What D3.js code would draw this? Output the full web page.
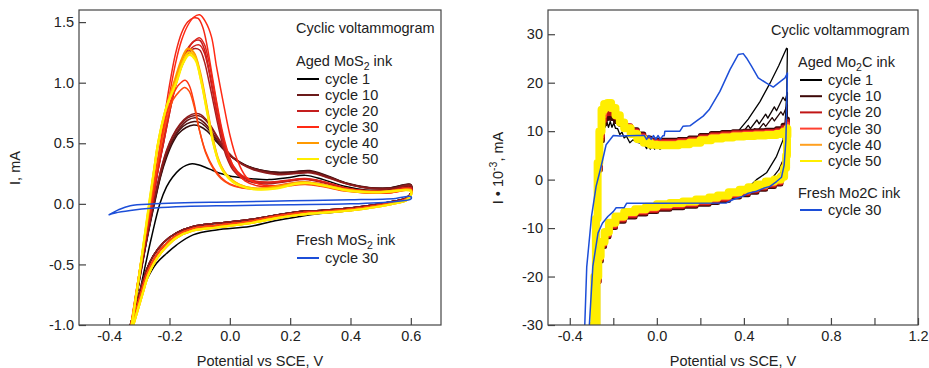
<!DOCTYPE html>
<meta charset="utf-8">
<style>

body { margin: 0; background: #fff; }
svg { font-family: "Liberation Sans", Arial, sans-serif; }
.frame { fill: none; stroke: #444; stroke-width: 1.2px; }
.axis .domain { display: none; }
.axis line { stroke: #444; stroke-width: 1.2px; }
.axis text { font-size: 14.5px; fill: #222; font-family: "Liberation Sans", Arial, sans-serif; }
.trace { fill: none; stroke-linejoin: round; stroke-linecap: round; }
.label { font-size: 14.5px; fill: #222; }

</style>
<svg width="929" height="368">
  <rect fill="#fff" width="100%" height="100%"></rect>
</svg>
<script src="https://d3js.org/d3.v7.min.js"></script>
<script>

// ---- shared legend ----
var legendCycles = [1, 10, 20, 30, 40, 50];

// ---- left panel: MoS2 ink, potential (V) vs current (mA) ----
var mosXTicks = [-0.4, -0.2, 0, 0.2, 0.4, 0.6];
var mosYTicks = [-1.0, -0.5, 0, 0.5, 1.0, 1.5];
var mosColors = ["#000000", "#6b1a1a", "#c41e1e", "#ff2a14", "#ff9900", "#ffee00"];

// forward (anodic) sweeps
var mos1 = [[-0.322,-1.0],[-0.305,-0.8],[-0.288,-0.6],[-0.26,-0.28],[-0.232,0.0],[-0.21,0.14],[-0.19,0.22],[-0.166,0.285],[-0.145,0.318],[-0.125,0.33],[-0.105,0.322],[-0.08,0.3],[-0.056,0.275],[-0.03,0.25],[0.0,0.23],[0.04,0.215],[0.08,0.205],[0.13,0.2],[0.19,0.215],[0.25,0.235],[0.31,0.2],[0.38,0.145],[0.45,0.115],[0.52,0.115],[0.6,0.14]];
var mos5 = [[-0.325,-1.0],[-0.30,-0.64],[-0.275,-0.3],[-0.25,0.0],[-0.23,0.22],[-0.21,0.38],[-0.19,0.5],[-0.17,0.58],[-0.145,0.63],[-0.12,0.65],[-0.10,0.64],[-0.075,0.6],[-0.05,0.53],[-0.025,0.46],[0.0,0.4],[0.03,0.35],[0.06,0.31],[0.1,0.28],[0.15,0.26],[0.2,0.26],[0.26,0.27],[0.32,0.23],[0.38,0.175],[0.45,0.135],[0.52,0.13],[0.6,0.155]];
var mos7 = [[-0.325,-1.0],[-0.30,-0.63],[-0.275,-0.29],[-0.251,0.0],[-0.23,0.23],[-0.21,0.4],[-0.19,0.52],[-0.167,0.61],[-0.143,0.66],[-0.118,0.68],[-0.098,0.67],[-0.073,0.62],[-0.048,0.54],[-0.023,0.46],[0.005,0.39],[0.035,0.34],[0.07,0.3],[0.11,0.275],[0.16,0.26],[0.21,0.265],[0.265,0.275],[0.325,0.23],[0.39,0.17],[0.46,0.135],[0.53,0.13],[0.6,0.16]];
var mos10 = [[-0.325,-1.0],[-0.30,-0.63],[-0.275,-0.29],[-0.252,0.0],[-0.23,0.24],[-0.21,0.41],[-0.19,0.53],[-0.165,0.63],[-0.14,0.69],[-0.115,0.71],[-0.095,0.69],[-0.07,0.63],[-0.045,0.54],[-0.02,0.45],[0.01,0.38],[0.04,0.33],[0.08,0.29],[0.12,0.265],[0.17,0.25],[0.22,0.26],[0.27,0.265],[0.33,0.22],[0.4,0.16],[0.47,0.13],[0.54,0.13],[0.6,0.16]];
var mos12 = [[-0.325,-1.0],[-0.30,-0.62],[-0.275,-0.28],[-0.253,0.0],[-0.23,0.26],[-0.21,0.43],[-0.19,0.55],[-0.165,0.65],[-0.14,0.71],[-0.115,0.73],[-0.095,0.72],[-0.07,0.66],[-0.045,0.56],[-0.02,0.465],[0.01,0.385],[0.04,0.33],[0.08,0.285],[0.12,0.26],[0.17,0.245],[0.22,0.255],[0.27,0.26],[0.33,0.215],[0.4,0.158],[0.47,0.128],[0.54,0.128],[0.6,0.155]];
var mos14 = [[-0.325,-1.0],[-0.30,-0.62],[-0.275,-0.28],[-0.254,0.0],[-0.23,0.27],[-0.21,0.44],[-0.19,0.56],[-0.165,0.66],[-0.14,0.72],[-0.115,0.745],[-0.095,0.735],[-0.07,0.67],[-0.045,0.57],[-0.02,0.47],[0.01,0.385],[0.04,0.325],[0.08,0.28],[0.12,0.255],[0.17,0.24],[0.22,0.25],[0.27,0.255],[0.33,0.21],[0.4,0.155],[0.47,0.125],[0.54,0.125],[0.6,0.15]];
var mos17 = [[-0.326,-1.0],[-0.30,-0.6],[-0.28,-0.3],[-0.257,0.0],[-0.24,0.25],[-0.22,0.5],[-0.20,0.75],[-0.18,0.97],[-0.16,1.13],[-0.14,1.23],[-0.12,1.28],[-0.10,1.27],[-0.085,1.18],[-0.07,1.02],[-0.055,0.84],[-0.04,0.66],[-0.025,0.5],[-0.01,0.38],[0.01,0.28],[0.04,0.21],[0.08,0.175],[0.13,0.165],[0.19,0.185],[0.25,0.2],[0.31,0.175],[0.38,0.13],[0.45,0.105],[0.53,0.105],[0.6,0.13]];
var mos20 = [[-0.326,-1.0],[-0.30,-0.6],[-0.28,-0.3],[-0.258,0.0],[-0.24,0.26],[-0.22,0.52],[-0.20,0.78],[-0.18,1.0],[-0.16,1.17],[-0.14,1.28],[-0.12,1.34],[-0.10,1.35],[-0.085,1.28],[-0.07,1.12],[-0.055,0.92],[-0.04,0.72],[-0.025,0.55],[-0.01,0.41],[0.01,0.3],[0.04,0.225],[0.08,0.185],[0.13,0.175],[0.19,0.19],[0.25,0.205],[0.31,0.18],[0.38,0.13],[0.45,0.105],[0.53,0.105],[0.6,0.13]];
var mos22 = [[-0.326,-1.0],[-0.30,-0.6],[-0.28,-0.3],[-0.258,0.0],[-0.24,0.26],[-0.22,0.51],[-0.20,0.77],[-0.18,0.99],[-0.16,1.15],[-0.14,1.25],[-0.12,1.3],[-0.10,1.31],[-0.085,1.25],[-0.07,1.1],[-0.055,0.9],[-0.04,0.7],[-0.025,0.54],[-0.01,0.41],[0.01,0.3],[0.04,0.225],[0.08,0.185],[0.13,0.175],[0.19,0.19],[0.25,0.205],[0.31,0.18],[0.38,0.13],[0.45,0.105],[0.53,0.105],[0.6,0.13]];
var mos24 = [[-0.326,-1.0],[-0.30,-0.6],[-0.28,-0.3],[-0.257,0.0],[-0.24,0.25],[-0.22,0.5],[-0.20,0.75],[-0.18,0.98],[-0.16,1.15],[-0.14,1.27],[-0.12,1.34],[-0.10,1.37],[-0.085,1.32],[-0.07,1.18],[-0.055,0.98],[-0.04,0.77],[-0.025,0.58],[-0.01,0.44],[0.01,0.32],[0.04,0.235],[0.08,0.19],[0.13,0.18],[0.19,0.195],[0.25,0.21],[0.31,0.185],[0.38,0.135],[0.45,0.11],[0.53,0.11],[0.6,0.135]];
var mos28 = [[-0.327,-1.0],[-0.30,-0.57],[-0.28,-0.26],[-0.262,0.0],[-0.24,0.33],[-0.22,0.66],[-0.20,0.98],[-0.18,1.24],[-0.16,1.41],[-0.14,1.5],[-0.12,1.535],[-0.105,1.53],[-0.09,1.46],[-0.075,1.3],[-0.06,1.08],[-0.045,0.86],[-0.03,0.66],[-0.015,0.5],[0.0,0.38],[0.02,0.27],[0.05,0.19],[0.09,0.15],[0.15,0.145],[0.2,0.165],[0.25,0.175],[0.31,0.155],[0.38,0.115],[0.45,0.095],[0.53,0.095],[0.6,0.12]];
var mos30 = [[-0.327,-1.0],[-0.30,-0.58],[-0.28,-0.27],[-0.26,0.0],[-0.24,0.3],[-0.22,0.6],[-0.20,0.9],[-0.18,1.16],[-0.16,1.35],[-0.14,1.47],[-0.12,1.54],[-0.10,1.56],[-0.08,1.5],[-0.061,1.38],[-0.044,1.13],[-0.022,0.84],[0.0,0.57],[0.022,0.38],[0.055,0.22],[0.1,0.16],[0.15,0.15],[0.2,0.17],[0.25,0.18],[0.31,0.16],[0.38,0.12],[0.45,0.1],[0.53,0.1],[0.6,0.125]];
var mos31 = [[-0.328,-1.0],[-0.30,-0.56],[-0.28,-0.25],[-0.263,0.0],[-0.24,0.35],[-0.22,0.62],[-0.20,0.82],[-0.188,0.9],[-0.17,0.98],[-0.148,1.02],[-0.135,0.98],[-0.12,0.85],[-0.10,0.6],[-0.08,0.43],[-0.055,0.3],[-0.03,0.22],[0.0,0.165],[0.04,0.135],[0.09,0.125],[0.15,0.135],[0.2,0.155],[0.25,0.165],[0.31,0.145],[0.38,0.11],[0.45,0.09],[0.53,0.09],[0.6,0.115]];
var mos33 = [[-0.328,-1.0],[-0.30,-0.56],[-0.28,-0.25],[-0.263,0.0],[-0.24,0.33],[-0.22,0.58],[-0.20,0.78],[-0.188,0.86],[-0.17,0.92],[-0.15,0.96],[-0.135,0.93],[-0.12,0.82],[-0.10,0.6],[-0.08,0.42],[-0.055,0.29],[-0.03,0.21],[0.0,0.16],[0.04,0.13],[0.09,0.12],[0.15,0.13],[0.2,0.15],[0.25,0.16],[0.31,0.14],[0.38,0.105],[0.45,0.09],[0.53,0.09],[0.6,0.11]];
var mos40 = [[-0.326,-1.0],[-0.30,-0.58],[-0.28,-0.24],[-0.266,0.0],[-0.25,0.29],[-0.237,0.5],[-0.21,0.8],[-0.18,1.04],[-0.16,1.19],[-0.14,1.28],[-0.12,1.25],[-0.10,1.1],[-0.08,0.85],[-0.06,0.58],[-0.04,0.38],[-0.02,0.27],[0.0,0.21],[0.03,0.16],[0.07,0.13],[0.12,0.13],[0.18,0.155],[0.24,0.18],[0.3,0.16],[0.38,0.12],[0.45,0.1],[0.53,0.1],[0.6,0.115]];
var mos45 = [[-0.325,-1.0],[-0.30,-0.58],[-0.28,-0.23],[-0.267,0.0],[-0.25,0.3],[-0.238,0.5],[-0.21,0.8],[-0.178,1.01],[-0.155,1.18],[-0.137,1.25],[-0.117,1.22],[-0.097,1.04],[-0.077,0.79],[-0.057,0.53],[-0.037,0.35],[-0.018,0.26],[0.01,0.19],[0.033,0.155],[0.08,0.125],[0.15,0.13],[0.22,0.17],[0.26,0.175],[0.32,0.15],[0.4,0.11],[0.5,0.1],[0.6,0.11]];
var mos50 = [[-0.325,-1.0],[-0.30,-0.58],[-0.28,-0.22],[-0.268,0.0],[-0.25,0.3],[-0.238,0.5],[-0.21,0.8],[-0.177,1.0],[-0.155,1.16],[-0.135,1.23],[-0.115,1.19],[-0.094,1.0],[-0.075,0.75],[-0.055,0.5],[-0.035,0.33],[-0.017,0.25],[0.01,0.18],[0.033,0.15],[0.08,0.12],[0.15,0.125],[0.22,0.165],[0.26,0.17],[0.32,0.145],[0.4,0.105],[0.5,0.095],[0.6,0.105]];

// reverse (cathodic) sweeps
var mosBackBlack = [[0.6,0.08],[0.585,0.04],[0.55,0.01],[0.5,-0.015],[0.4,-0.055],[0.3,-0.08],[0.232,-0.105],[0.15,-0.14],[0.066,-0.187],[-0.044,-0.215],[-0.122,-0.256],[-0.177,-0.34],[-0.21,-0.41],[-0.243,-0.49],[-0.276,-0.63],[-0.305,-0.82],[-0.325,-1.0]];
var mosBackDark = [[0.6,0.09],[0.585,0.05],[0.55,0.025],[0.5,0.0],[0.4,-0.035],[0.3,-0.055],[0.232,-0.063],[0.15,-0.095],[0.066,-0.13],[-0.044,-0.16],[-0.122,-0.187],[-0.177,-0.24],[-0.22,-0.32],[-0.254,-0.43],[-0.276,-0.545],[-0.30,-0.74],[-0.33,-1.0]];
var mosBackRed = [[0.6,0.08],[0.585,0.04],[0.55,0.015],[0.5,-0.01],[0.4,-0.045],[0.3,-0.065],[0.232,-0.075],[0.15,-0.105],[0.066,-0.145],[-0.044,-0.178],[-0.122,-0.203],[-0.177,-0.26],[-0.22,-0.35],[-0.25,-0.45],[-0.273,-0.565],[-0.296,-0.75],[-0.325,-1.0]];
var mosBackYellow = [[0.6,0.07],[0.585,0.03],[0.55,0.005],[0.5,-0.02],[0.4,-0.055],[0.3,-0.075],[0.232,-0.09],[0.15,-0.12],[0.066,-0.16],[-0.044,-0.195],[-0.122,-0.22],[-0.177,-0.28],[-0.22,-0.38],[-0.248,-0.476],[-0.27,-0.586],[-0.292,-0.765],[-0.32,-1.0]];

// fresh MoS2 ink, cycle 30
var mosFresh = [[-0.40,-0.09],[-0.37,-0.05],[-0.33,-0.015],[-0.25,0.0],[-0.15,0.01],[0.0,0.015],[0.2,0.025],[0.4,0.033],[0.55,0.045],[0.6,0.06],[0.6,0.04],[0.55,0.02],[0.4,0.0],[0.2,-0.008],[0.0,-0.015],[-0.15,-0.022],[-0.25,-0.035],[-0.33,-0.055],[-0.38,-0.075],[-0.40,-0.09]];

// ---- right panel: Mo2C ink, potential (V) vs current (10^-3 mA) ----
var mo2cXTicks = [-0.4, -0.2, 0, 0.2, 0.4, 0.6, 0.8, 1.0, 1.2];
var mo2cXLabels = [-0.4, 0, 0.4, 0.8, 1.2];
var mo2cYTicks = [-30, -20, -10, 0, 10, 20, 30];
var mo2cColors = ["#000000", "#3d0808", "#c01515", "#ff4030", "#ffa020", "#ffee00"];

var mo2c1 = [[-0.294,-30],[-0.28,-12],[-0.265,5],[-0.255,10.5],[-0.245,12],[-0.238,10.8],[-0.23,12],[-0.222,10.8],[-0.214,12],[-0.206,10.8],[-0.198,11.7],[-0.19,10.6],[-0.18,10.5],[-0.17,9.3],[-0.16,9.8],[-0.15,8.6],[-0.14,9.0],[-0.124,7.6],[-0.11,8.2],[-0.09,7.7],[-0.06,7.4],[-0.047,6.4],[-0.04,7.0],[-0.03,6.3],[-0.02,7.0],[-0.01,6.3],[0.0,7.0],[0.014,6.3],[0.05,7.2],[0.2,7.8],[0.33,8.6],[0.37,9.6],[0.38,10.3],[0.42,12.5],[0.474,16.1],[0.52,19.9],[0.56,23.5],[0.596,27.1],
  [0.6,27],[0.597,18],[0.59,12],[0.58,8.2],[0.55,4.8],[0.504,1.4],[0.458,0],[0.4,-2.5],[0.3,-3.9],[0.2,-4.5],[0.0,-5.6],[-0.12,-7.2],[-0.2,-9.5],[-0.24,-13],[-0.26,-18],[-0.275,-30]];
var mo2c3 = [[0.3,8.5],[0.36,9.2],[0.4,10],[0.42,11.2],[0.43,10.5],[0.46,12.3],[0.47,11.5],[0.5,13.5],[0.51,12.7],[0.54,15],[0.55,14.2],[0.58,17],[0.59,16.3],[0.6,18],[0.598,12],[0.592,7],[0.58,4],[0.56,2],[0.53,0.3],[0.5,-0.8]];
var mo2c6 = [[0.35,9],[0.42,9.6],[0.45,10.5],[0.46,9.9],[0.49,11.6],[0.5,11],[0.53,12.8],[0.54,12.1],[0.57,14],[0.58,13.3],[0.6,15.5],[0.598,10],[0.593,6],[0.585,3.5],[0.57,1.5],[0.54,0],[0.5,-1]];

var mo2c10 = [[-0.288,-30],[-0.283,-20],[-0.276,-8],[-0.268,2],[-0.26,8],[-0.25,11.5],[-0.238,12.6],[-0.225,12.9],[-0.21,12.6],[-0.19,12],[-0.17,11.4],[-0.15,10.9],[-0.12,10.3],[-0.09,9.4],[-0.06,8.6],[-0.03,8.2],[0.0,8.1],[0.05,8.1],[0.1,8.3],[0.15,8.6],[0.2,9.1],[0.25,9.5],[0.3,9.7],[0.35,9.9],[0.4,10],[0.45,10.1],[0.5,10.2],[0.55,10.5],[0.58,11.2],[0.6,12.5],
  [0.6,11],[0.598,7],[0.594,3.5],[0.585,0.6],[0.57,-0.9],[0.54,-1.4],[0.5,-2],[0.46,-2.6],[0.42,-3.1],[0.38,-3.6],[0.33,-4.3],[0.28,-4.7],[0.24,-5.1],[0.18,-5.5],[0.12,-5.8],[0.06,-6.1],[0.0,-6.6],[-0.05,-7.1],[-0.1,-7.7],[-0.15,-8.6],[-0.19,-9.9],[-0.22,-11.8],[-0.24,-13.8],[-0.255,-16.8],[-0.265,-21],[-0.272,-30]];
var mo2c20 = [[-0.289,-30],[-0.284,-20],[-0.277,-8],[-0.269,2],[-0.261,8.5],[-0.251,12.2],[-0.24,13.6],[-0.225,14],[-0.21,13.6],[-0.19,12.8],[-0.17,11.9],[-0.15,11.1],[-0.12,10.1],[-0.09,9.15],[-0.06,8.35],[-0.03,7.95],[0.0,7.85],[0.05,7.85],[0.1,8.05],[0.15,8.35],[0.2,8.85],[0.25,9.25],[0.3,9.45],[0.35,9.65],[0.4,9.75],[0.45,9.85],[0.5,9.95],[0.55,10.2],[0.58,10.8],[0.6,12],
  [0.6,10.5],[0.598,6.5],[0.594,3.2],[0.585,0.6],[0.57,-0.7],[0.54,-1.15],[0.5,-1.75],[0.46,-2.35],[0.42,-2.85],[0.38,-3.35],[0.33,-4.05],[0.28,-4.45],[0.24,-4.85],[0.18,-5.25],[0.12,-5.55],[0.06,-5.85],[0.0,-6.35],[-0.05,-6.85],[-0.1,-7.45],[-0.15,-8.35],[-0.19,-9.65],[-0.22,-11.55],[-0.24,-13.55],[-0.256,-16.5],[-0.266,-21],[-0.274,-30]];
var mo2c30 = [[-0.29,-30],[-0.285,-20],[-0.278,-8],[-0.27,2.5],[-0.262,9],[-0.252,13.2],[-0.24,14.7],[-0.225,15.1],[-0.21,14.4],[-0.19,13.2],[-0.17,12],[-0.15,11],[-0.12,9.9],[-0.09,8.9],[-0.06,8.1],[-0.03,7.7],[0.0,7.6],[0.05,7.6],[0.1,7.8],[0.15,8.1],[0.2,8.6],[0.25,9.0],[0.3,9.2],[0.35,9.4],[0.4,9.5],[0.45,9.6],[0.5,9.7],[0.55,9.9],[0.58,10.4],[0.6,11.5],
  [0.6,10],[0.598,6],[0.594,3],[0.585,0.6],[0.57,-0.5],[0.54,-0.9],[0.5,-1.5],[0.46,-2.1],[0.42,-2.6],[0.38,-3.1],[0.33,-3.8],[0.28,-4.2],[0.24,-4.6],[0.18,-5],[0.12,-5.3],[0.06,-5.6],[0.0,-6.1],[-0.05,-6.6],[-0.1,-7.2],[-0.15,-8.1],[-0.19,-9.4],[-0.22,-11.3],[-0.24,-13.3],[-0.256,-16.3],[-0.267,-21],[-0.275,-30]];
var mo2c40 = [[-0.291,-30],[-0.286,-20],[-0.279,-8],[-0.271,3],[-0.263,9.5],[-0.253,13.8],[-0.241,15.2],[-0.226,15.5],[-0.21,14.6],[-0.19,13.3],[-0.17,11.9],[-0.15,10.8],[-0.12,9.6],[-0.09,8.6],[-0.06,7.85],[-0.03,7.45],[0.0,7.35],[0.05,7.35],[0.1,7.55],[0.15,7.85],[0.2,8.35],[0.25,8.75],[0.3,8.95],[0.35,9.15],[0.4,9.25],[0.45,9.35],[0.5,9.45],[0.55,9.65],[0.58,10.1],[0.6,11],
  [0.6,9.5],[0.598,5.5],[0.594,2.7],[0.585,0.6],[0.57,-0.25],[0.54,-0.65],[0.5,-1.25],[0.46,-1.85],[0.42,-2.35],[0.38,-2.85],[0.33,-3.55],[0.28,-3.95],[0.24,-4.35],[0.18,-4.75],[0.12,-5.05],[0.06,-5.35],[0.0,-5.85],[-0.05,-6.35],[-0.1,-6.95],[-0.15,-7.85],[-0.19,-9.15],[-0.22,-11.05],[-0.24,-13.05],[-0.257,-16],[-0.268,-20.5],[-0.276,-30]];
var mo2c50 = [[-0.292,-30],[-0.287,-20],[-0.28,-8],[-0.272,3.5],[-0.264,10],[-0.254,14.4],[-0.242,15.6],[-0.227,15.8],[-0.21,14.8],[-0.19,13.3],[-0.17,11.8],[-0.15,10.6],[-0.12,9.4],[-0.09,8.4],[-0.06,7.6],[-0.03,7.2],[0.0,7.1],[0.05,7.1],[0.1,7.3],[0.15,7.6],[0.2,8.1],[0.25,8.5],[0.3,8.7],[0.35,8.9],[0.4,9.0],[0.45,9.1],[0.5,9.2],[0.55,9.4],[0.58,9.8],[0.6,10.5],
  [0.6,9],[0.598,5],[0.594,2.4],[0.585,0.6],[0.57,0],[0.54,-0.4],[0.5,-1],[0.46,-1.6],[0.42,-2.1],[0.38,-2.6],[0.33,-3.3],[0.28,-3.7],[0.24,-4.1],[0.18,-4.5],[0.12,-4.8],[0.06,-5.1],[0.0,-5.6],[-0.05,-6.1],[-0.1,-6.7],[-0.15,-7.6],[-0.19,-8.9],[-0.22,-10.8],[-0.24,-12.8],[-0.258,-15.8],[-0.269,-20],[-0.277,-30]];

// fresh Mo2C ink, cycle 30
var mo2cFresh = [[-0.331,-30],[-0.322,-18],[-0.30,-7.6],[-0.279,-1.4],[-0.256,2.7],[-0.233,7.2],[-0.20,9.1],[-0.17,9.0],[-0.09,9.1],[-0.057,9.1],[-0.047,8.3],[-0.036,9.1],[-0.026,8.3],[-0.015,9.1],[-0.005,8.3],[0.006,9.1],[0.016,8.3],[0.028,9.07],[0.034,9.07],[0.037,10.0],[0.106,10.0],[0.12,11],[0.152,11.1],[0.18,12],[0.213,13.1],[0.24,14.4],[0.29,18.2],[0.336,22.7],[0.374,25.8],[0.397,26],[0.412,25.1],[0.435,23.4],[0.466,21],[0.504,19.9],[0.535,19.1],[0.558,19.9],[0.589,21],[0.6,22],
  [0.597,16],[0.593,8.2],[0.585,3],[0.573,0.5],[0.55,-0.4],[0.52,-1.4],[0.49,-1.8],[0.458,-2.4],[0.42,-2.8],[0.397,-3.4],[0.351,-4.1],[0.32,-4.8],[0.0,-4.9],[-0.139,-4.9],[-0.15,-5.8],[-0.187,-5.8],[-0.2,-6.6],[-0.225,-7.6],[-0.25,-9],[-0.27,-11],[-0.294,-17.9],[-0.31,-30]];

var svg = d3.select("svg");

function panel(cfg) {
  var x = d3.scaleLinear().domain(cfg.xDomain).range([cfg.left, cfg.right]),
      y = d3.scaleLinear().domain(cfg.yDomain).range([cfg.bottom, cfg.top]);

  svg.append("clipPath").attr("id", cfg.id)
    .append("rect")
      .attr("x", cfg.left).attr("y", cfg.top)
      .attr("width", cfg.right - cfg.left).attr("height", cfg.bottom - cfg.top);

  svg.append("g").attr("class", "axis")
      .attr("transform", "translate(0," + cfg.bottom + ")")
      .call(d3.axisBottom(x).tickValues(cfg.xTicks).tickSize(-7).tickPadding(6)
        .tickFormat(cfg.xFormat));

  svg.append("g").attr("class", "axis")
      .attr("transform", "translate(" + cfg.left + ",0)")
      .call(d3.axisLeft(y).tickValues(cfg.yTicks).tickSize(-7).tickPadding(5)
        .tickFormat(cfg.yFormat));

  var plot = svg.append("g").attr("clip-path", "url(#" + cfg.id + ")");

  svg.append("rect").attr("class", "frame")
      .attr("x", cfg.left).attr("y", cfg.top)
      .attr("width", cfg.right - cfg.left).attr("height", cfg.bottom - cfg.top);

  return {x: x, y: y, plot: plot};
}

function drawTrace(p, pts, color, width, curve) {
  var line = d3.line()
      .x(function(d) { return p.x(d[0]); })
      .y(function(d) { return p.y(d[1]); })
      .curve(curve);
  p.plot.append("path").datum(pts)
      .attr("class", "trace")
      .attr("stroke", color)
      .attr("stroke-width", width)
      .attr("d", line);
}

function heading(tx, ty, parts) {
  var t = svg.append("text").attr("class", "label").attr("x", tx).attr("y", ty);
  parts.forEach(function(s) {
    if (s.sub) t.append("tspan").attr("font-size", "10.5px").attr("dy", 4).text(s.sub);
    else t.append("tspan").attr("dy", s.after ? -4 : 0).text(s.text);
  });
}

function legend(x0, rows, colorOf) {
  rows.forEach(function(r) {
    svg.append("line")
        .attr("x1", x0).attr("x2", x0 + 22)
        .attr("y1", r.y - 5).attr("y2", r.y - 5)
        .attr("stroke", colorOf(r.cycle)).attr("stroke-width", 2);
    svg.append("text").attr("class", "label")
        .attr("x", x0 + 28).attr("y", r.y).text("cycle " + r.cycle);
  });
}

var fmt1 = function(d) { return d.toFixed(1); };

// ---------- left panel ----------
var L = panel({
  id: "clipL", left: 79, right: 441, top: 10, bottom: 325,
  xDomain: [-0.5, 0.7], yDomain: [-1.0, 1.6],
  xTicks: mosXTicks, yTicks: mosYTicks, xFormat: fmt1, yFormat: fmt1
});

var mosColor = d3.scaleLinear().domain(legendCycles).range(mosColors);

var mosTraces = [
  [1, mos1, mosBackBlack], [5, mos5, mosBackDark], [7, mos7, mosBackDark],
  [10, mos10, mosBackDark], [12, mos12, mosBackDark], [14, mos14, mosBackDark],
  [17, mos17, mosBackRed], [20, mos20, mosBackRed], [22, mos22, mosBackRed],
  [24, mos24, mosBackRed], [28, mos28, mosBackRed], [30, mos30, mosBackRed],
  [31, mos31, mosBackRed], [33, mos33, mosBackRed], [40, mos40, mosBackYellow],
  [45, mos45, mosBackYellow], [50, mos50, mosBackYellow]
];

mosTraces.forEach(function(t) {
  drawTrace(L, t[1].concat(t[2]), mosColor(t[0]), t[0] >= 40 ? 2.2 : 1.5,
    d3.curveCatmullRom.alpha(0.5));
});
drawTrace(L, mosFresh, "#1c4ed8", 1.5, d3.curveCatmullRom.alpha(0.5));

svg.append("text").attr("class", "label")
    .attr("transform", "translate(20,168)rotate(-90)")
    .attr("text-anchor", "middle").text("I, mA");
svg.append("text").attr("class", "label")
    .attr("x", 260).attr("y", 366).attr("text-anchor", "middle")
    .text("Potential vs SCE, V");

svg.append("text").attr("class", "label").attr("x", 296).attr("y", 33).text("Cyclic voltammogram");
heading(296, 66, [{text: "Aged MoS"}, {sub: "2"}, {text: " ink", after: true}]);
legend(297, legendCycles.map(function(c, i) { return {cycle: c, y: 84 + i * 16}; }), mosColor);
heading(296, 245, [{text: "Fresh MoS"}, {sub: "2"}, {text: " ink", after: true}]);
legend(297, [{cycle: 30, y: 263}], function() { return "#1c4ed8"; });

// ---------- right panel ----------
var R = panel({
  id: "clipR", left: 548, right: 918, top: 10, bottom: 325,
  xDomain: [-0.5, 1.2], yDomain: [-30, 35],
  xTicks: mo2cXTicks, yTicks: mo2cYTicks,
  xFormat: function(d) {
    return mo2cXLabels.some(function(v) { return Math.abs(v - d) < 1e-9; }) ? d.toFixed(1) : "";
  },
  yFormat: function(d) { return String(d); }
});

var mo2cColor = d3.scaleLinear().domain(legendCycles).range(mo2cColors);

drawTrace(R, mo2c1, mo2cColor(1), 1.3, d3.curveLinear);
drawTrace(R, mo2c3, mo2cColor(3), 1.3, d3.curveLinear);
drawTrace(R, mo2c6, mo2cColor(6), 1.3, d3.curveLinear);
[[10, mo2c10], [20, mo2c20], [30, mo2c30], [40, mo2c40], [50, mo2c50]].forEach(function(t) {
  drawTrace(R, t[1], mo2cColor(t[0]), t[0] === 50 ? 8 : 5, d3.curveStepAfter);
});
drawTrace(R, mo2cFresh, "#1c4ed8", 1.5, d3.curveLinear);

svg.append("text").attr("class", "label")
    .attr("transform", "translate(503,168)rotate(-90)")
    .attr("text-anchor", "middle")
    .call(function(t) {
      t.append("tspan").text("I \u2022 10");
      t.append("tspan").attr("font-size", "10.5px").attr("dy", -6).text("-3");
      t.append("tspan").attr("dy", 6).text(", mA");
    });
svg.append("text").attr("class", "label")
    .attr("x", 733).attr("y", 366).attr("text-anchor", "middle")
    .text("Potential vs SCE, V");

svg.append("text").attr("class", "label").attr("x", 771).attr("y", 35).text("Cyclic voltammogram");
heading(798, 67, [{text: "Aged Mo"}, {sub: "2"}, {text: "C ink", after: true}]);
legend(800, legendCycles.map(function(c, i) { return {cycle: c, y: 85 + i * 16.2}; }), mo2cColor);
svg.append("text").attr("class", "label").attr("x", 798).attr("y", 198).text("Fresh Mo2C ink");
legend(800, [{cycle: 30, y: 215}], function() { return "#1c4ed8"; });

</script>
